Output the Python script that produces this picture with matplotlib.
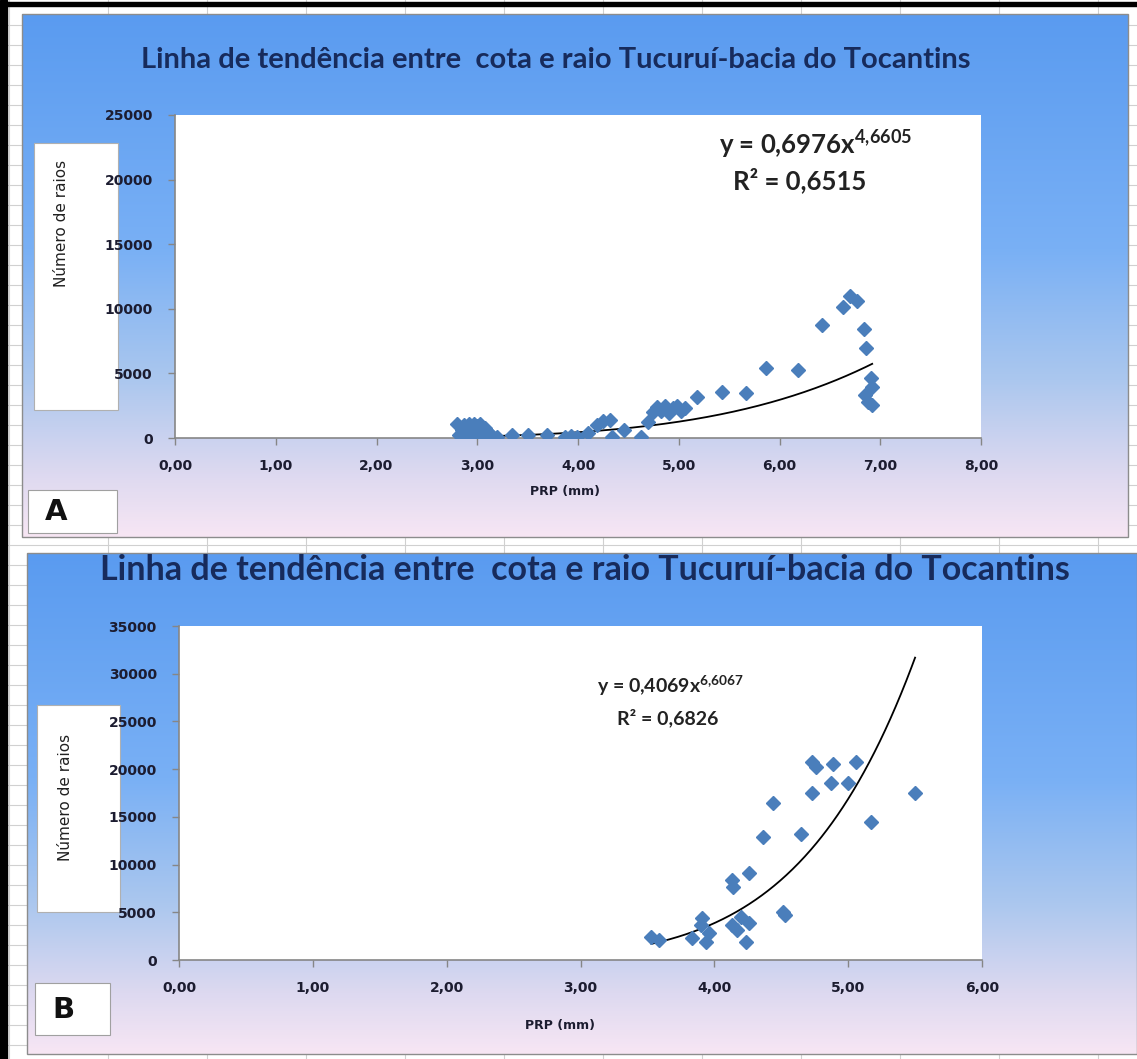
import numpy as np
import matplotlib.pyplot as plt
from matplotlib.colors import LinearSegmentedColormap
from matplotlib.patches import Rectangle
from matplotlib.ticker import FuncFormatter, MultipleLocator

W, H = 1137, 1059

title = "Linha de tendência entre  cota e raio Tucuruí-bacia do Tocantins"
y_label = "Número de raios"
x_label = "PRP (mm)"

# panel A: PRP (mm) vs number of lightning strikes
a_prp = [2.80, 2.82, 2.85, 2.87, 2.88, 2.90, 2.92, 2.93, 2.95, 2.97, 2.98,
         3.00, 3.02, 3.03, 3.05, 3.07, 3.08, 3.10, 3.12, 3.15, 3.20,
         3.34, 3.50, 3.69, 3.87, 3.93, 3.99, 4.10, 4.19, 4.25, 4.32, 4.34,
         4.46, 4.63, 4.69, 4.74, 4.78, 4.82, 4.86, 4.90, 4.94, 4.98, 5.02,
         5.06, 5.18, 5.43, 5.67, 5.87, 6.18, 6.42, 6.63, 6.70, 6.77, 6.84,
         6.86, 6.91, 6.92, 6.85, 6.88, 6.92]
a_raios = [1100, 200, 600, 1000, 0, 300, 1100, 700, 100, 1100, 400,
           900, 0, 1100, 500, 200, 800, 100, 400, 150, 100,
           230, 230, 230, 80, 150, 100, 400, 1000, 1300, 1400, 100,
           620, 50, 1240, 2000, 2400, 2100, 2500, 1900, 2300, 2500, 2100,
           2300, 3180, 3570, 3490, 5430, 5270, 8760, 10150, 11000, 10600, 8400,
           7000, 4650, 3950, 3330, 2800, 2560]
a_coef, a_exp, a_r2 = 0.6976, 4.6605, 0.6515

# panel B
b_prp = [3.53, 3.59, 3.83, 3.90, 3.91, 3.94, 3.96, 4.13, 4.14, 4.13, 4.17,
         4.20, 4.24, 4.26, 4.26, 4.36, 4.44, 4.51, 4.53, 4.65, 4.73, 4.73,
         4.76, 4.87, 4.89, 5.00, 5.06, 5.17, 5.50]
b_raios = [2400, 2100, 2300, 3700, 4400, 1900, 2800, 8400, 7700, 3700, 3100,
           4500, 1900, 3900, 9100, 12900, 16500, 5000, 4700, 13200, 20800, 17500,
           20200, 18500, 20500, 18500, 20800, 14500, 17500]
b_coef, b_exp, b_r2 = 0.4069, 6.6067, 0.6826

plt.rcParams.update({
    "mathtext.fontset": "custom",
    "mathtext.rm": "Lato:bold",
    "mathtext.bf": "Lato:bold",
    "mathtext.default": "rm",
})

navy = "#172b5c"
tick_col = "#1c1c30"
axis_col = "#868686"
marker_col = "#4a7ebb"

bg_cmap = LinearSegmentedColormap.from_list("xl", [
    (0.0, "#5a9bf0"), (0.45, "#79b0f5"), (0.7, "#abc7ee"),
    (0.88, "#ddd9f0"), (1.0, "#f7e6f4")])

fig = plt.figure(figsize=(W / 100, H / 100), dpi=100)
bg = fig.add_axes([0, 0, 1, 1])
bg.set_xlim(0, W)
bg.set_ylim(H, 0)
bg.axis("off")

# spreadsheet grid behind the charts
for gx in np.arange(9, W, 99):
    bg.plot([gx, gx], [0, H], color="#d0d0d0", lw=0.8, zorder=0)
for gy in np.arange(5, H, 20):
    bg.plot([0, W], [gy, gy], color="#d0d0d0", lw=0.8, zorder=0)
bg.add_patch(Rectangle((0, 0), 7, H, color="black", zorder=5))
bg.add_patch(Rectangle((0, 2), W, 4, color="black", zorder=5))

grad = np.linspace(0, 1, 256).reshape(-1, 1)


def panel(x0, y0, x1, y1, letter, lab_box, letter_box, lab_y):
    bg.imshow(grad, cmap=bg_cmap, aspect="auto",
              extent=[x0, x1, y1, y0], zorder=1)
    bg.add_patch(Rectangle((x0, y0), x1 - x0, y1 - y0, fill=False,
                           ec="#8c8c8c", lw=1, zorder=2))
    bx0, by0, bx1, by1 = lab_box
    bg.add_patch(Rectangle((bx0, by0), bx1 - bx0, by1 - by0, fc="white",
                           ec="#b0b0b0", lw=0.8, zorder=2))
    bg.text(bx0 + 28, lab_y, y_label, rotation=90, ha="center", va="center",
            fontsize=11, color="#202020", zorder=3)
    lx0, ly0, lx1, ly1 = letter_box
    bg.add_patch(Rectangle((lx0, ly0), lx1 - lx0, ly1 - ly0, fc="white",
                           ec="#a0a0a0", lw=0.8, zorder=2))
    bg.text(lx0 + 28, (ly0 + ly1) / 2 + 1, letter, ha="center", va="center",
            fontsize=21, fontweight="bold", color="#111111", zorder=3)


panel(22, 14, 1128, 537, "A", (34, 143, 118, 410), (28, 490, 117, 533), 223)
panel(27, 553, 1137, 1054, "B", (37, 705, 120, 912), (35, 983, 110, 1035), 797)

bg.text(556, 60, title, ha="center", va="center", fontsize=21,
        fontweight="bold", family="Lato", color=navy, zorder=3)
bg.text(585, 570, title, ha="center", va="center", fontsize=24.5,
        fontweight="bold", family="Lato", color=navy, zorder=3)
bg.text(565, 492, x_label, ha="center", va="center", fontsize=9,
        fontweight="bold", color=tick_col, zorder=3)
bg.text(560, 1025, x_label, ha="center", va="center", fontsize=9,
        fontweight="bold", color=tick_col, zorder=3)


def comma(v, pos):
    return f"{v:.2f}".replace(".", ",")


def scatter_axes(rect, x, y, xmax, ymax, coef, expo):
    l, b, r, t = rect
    ax = fig.add_axes([l / W, 1 - b / H, (r - l) / W, (b - t) / H])
    ax.set_facecolor("white")
    xs = np.linspace(min(x), max(x), 300)
    ax.plot(xs, coef * xs ** expo, color="black", lw=1.3, zorder=2)
    ax.plot(x, y, ls="none", marker="D", ms=7.5, color=marker_col,
            mec=marker_col, zorder=3)
    ax.set_xlim(0, xmax)
    ax.set_ylim(0, ymax)
    ax.xaxis.set_major_locator(MultipleLocator(1))
    ax.yaxis.set_major_locator(MultipleLocator(5000))
    ax.xaxis.set_major_formatter(FuncFormatter(comma))
    ax.yaxis.set_major_formatter(FuncFormatter(lambda v, p: f"{v:.0f}"))
    for s in ("top", "right"):
        ax.spines[s].set_visible(False)
    for s in ("left", "bottom"):
        ax.spines[s].set_color(axis_col)
        ax.spines[s].set_linewidth(1.2)
    ax.tick_params(direction="out", length=5, width=1, color=axis_col,
                   labelsize=10, labelcolor=tick_col)
    ax.tick_params(axis="y", pad=11)
    ax.tick_params(axis="x", pad=10)
    for lab in ax.get_xticklabels() + ax.get_yticklabels():
        lab.set_fontweight("bold")
    return ax


ax_a = scatter_axes((175, 438, 981, 115), a_prp, a_raios, 8, 25000, a_coef, a_exp)
ax_b = scatter_axes((179, 960, 982, 626), b_prp, b_raios, 6, 35000, b_coef, b_exp)


def eq_text(cx, cy, rx, ry, coef, expo, r2, size):
    c = f"{coef:.4f}".replace(".", ",")
    e = f"{expo:.4f}".replace(".", "{,}")
    r = f"{r2:.4f}".replace(".", ",")
    fig.text(cx / W, 1 - cy / H, f"y = {c}x$^{{{e}}}$", ha="center",
             va="center", fontsize=size, fontweight="bold", family="Lato",
             color="#222222", zorder=4)
    fig.text(rx / W, 1 - ry / H, f"R² = {r}", ha="center",
             va="center", fontsize=size, fontweight="bold", family="Lato",
             color="#222222", zorder=4)


eq_text(815, 145, 800, 180, a_coef, a_exp, a_r2, 18.5)
eq_text(670, 686, 668, 718, b_coef, b_exp, b_r2, 14)

fig.savefig("out.png", dpi=100)
